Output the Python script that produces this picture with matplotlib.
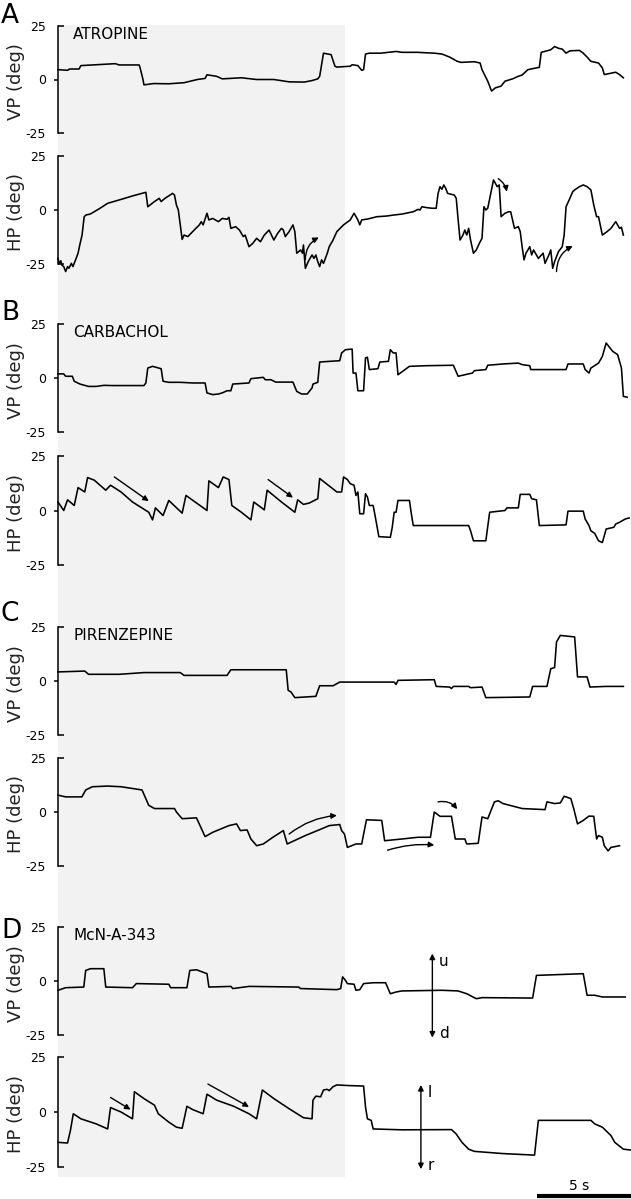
import matplotlib
matplotlib.use("Agg")
import matplotlib.pyplot as plt

# eye position traces (time in s, position in deg)

a_vp = [(0, 4.6), (0.5, 4.3), (0.6, 4.9), (1.1, 4.9), (1.2, 6.5), (2.0, 6.9), (3.0, 7.4), (3.2, 6.8), (4.25, 6.8),
        (4.3, 5.4), (4.45, 0), (4.5, -2.5), (5.0, -1.9), (5.8, -2.0), (6.6, -1.5), (7.3, 0), (7.7, 0.5), (7.8, 2.2),
        (8.3, 1.5), (8.6, 0.3), (9.6, 0.8), (10.4, 0), (11.3, 0), (12.1, -1.1), (12.9, -1.2), (13.3, -0.5),
        (13.6, 0.3), (13.7, 1.5), (13.9, 12.3), (14.3, 11.6), (14.5, 6.2), (14.6, 5.8), (15.3, 6.2), (15.4, 6.9),
        (15.7, 6.5), (15.9, 4.3), (16.0, 4.6), (16.1, 11.9), (16.3, 12.3), (16.9, 12.3), (17.7, 13.1), (18.0, 12.7),
        (18.8, 12.7), (19.7, 12.3), (20.1, 11.9), (20.5, 10.5), (20.9, 8.5), (21.1, 8.0), (21.8, 8.3), (22.1, 7.7),
        (22.2, 4.6), (22.5, -0.8), (22.7, -5.4), (22.9, -3.9), (23.2, -3.1), (23.4, -0.8), (23.8, 0.3), (24.1, 1.5),
        (24.3, 2.1), (24.6, 4.6), (25.2, 5.7), (25.3, 12.7), (25.6, 13.4), (25.8, 13.9), (26.0, 15.4), (26.2, 14.6),
        (26.4, 14.2), (26.6, 12.3), (26.8, 13.4), (27.3, 13.6), (27.5, 12.3), (27.7, 10.5), (27.9, 8.5), (28.3, 7.7),
        (28.5, 5.4), (28.6, 2.3), (29.2, 3.4), (29.4, 2.3), (29.6, 0.8)]

a_hp = [(0, -22.4), (0.06, -24.7), (0.15, -23.5), (0.2, -25.5), (0.3, -26.2), (0.4, -28.5), (0.5, -26.2),
        (0.57, -27), (0.7, -24.7), (0.78, -26.2), (0.95, -22.4), (1.05, -20), (1.16, -15.4), (1.26, -11.6),
        (1.37, -3.1), (1.47, -2.3), (1.68, -1.9), (1.9, -0.8), (2.2, 0.8), (2.6, 3.1), (3.3, 4.9), (3.9, 6.5),
        (4.6, 8.2), (4.7, 1.5), (5.05, 3.9), (5.3, 5.4), (5.4, 3.9), (5.6, 5.4), (6.0, 7.7), (6.1, 6.9), (6.2, 2.3),
        (6.3, 0), (6.4, -6.9), (6.5, -13.6), (6.6, -11.6), (6.8, -12.3), (7.05, -10), (7.4, -6.9), (7.5, -5.4),
        (7.6, -6.9), (7.8, -1.5), (7.9, -4.6), (8.1, -3.9), (8.4, -5.4), (8.6, -3.9), (8.85, -4.3), (8.95, -3.4),
        (9.05, -8.5), (9.3, -7.7), (9.5, -9.3), (9.6, -10.8), (9.7, -12.3), (9.8, -11.6), (10.0, -17), (10.2, -15.4),
        (10.4, -13.1), (10.6, -14.7), (10.8, -11.6), (11.05, -9.3), (11.3, -13.9), (11.5, -10.8), (11.7, -8.5),
        (11.8, -9.3), (11.9, -12.3), (12.1, -10), (12.3, -6.9), (12.4, -10), (12.5, -20), (12.7, -18.5), (12.8, -20),
        (12.85, -16.2), (12.95, -27), (13.1, -23.9), (13.3, -20.8), (13.4, -22.4), (13.5, -20.8), (13.6, -23.9),
        (13.7, -26.2), (13.8, -23.1), (13.9, -24.7), (14.0, -22.4), (14.1, -20), (14.2, -17), (14.4, -13.9),
        (14.6, -10), (14.95, -6.9), (15.3, -4.6), (15.5, -1.5), (15.6, -3.1), (15.7, -4.6), (15.8, -6.9),
        (15.9, -4.6), (16.2, -4.2), (16.7, -3.1), (17.2, -2.8), (17.6, -2.3), (18.0, -1.9), (18.6, -0.8),
        (18.85, 0.3), (18.95, 0), (19.05, 1.5), (19.3, 1.1), (19.6, 0.8), (19.8, 0.8), (19.9, 7.7), (20.0, 10.8),
        (20.1, 9.6), (20.2, 11.6), (20.3, 10), (20.4, 7.7), (20.75, 6.9), (20.85, 5.4), (20.95, -4.6), (21.05, -13.9),
        (21.2, -11.6), (21.3, -9.3), (21.4, -11.6), (21.5, -8.5), (21.6, -13.9), (21.75, -20), (21.9, -18.5),
        (22.1, -14.7), (22.2, -13.1), (22.3, 1.5), (22.4, 0), (22.5, 0.8), (22.8, 13.9), (23.0, 10.8), (23.1, 11.6),
        (23.2, -3.1), (23.4, -1.5), (23.6, -0.8), (23.7, -0.8), (23.8, -4.6), (23.9, -8.5), (24.1, -7.7),
        (24.2, -10), (24.3, -17), (24.4, -23.1), (24.5, -20), (24.7, -17), (24.8, -20.8), (24.9, -18.5),
        (25.15, -22.4), (25.4, -20), (25.5, -24.7), (25.7, -20.8), (25.8, -18.5), (25.9, -27), (26.0, -23.9),
        (26.2, -19.3), (26.4, -17), (26.5, -11.6), (26.6, 1.5), (26.8, 5.4), (26.95, 8.5), (27.05, 9.3),
        (27.3, 10.8), (27.5, 11.6), (27.7, 10.8), (27.9, 9.3), (28.05, 2.3), (28.2, -3.1), (28.3, -3.1),
        (28.5, -11.6), (28.75, -10), (28.95, -8.5), (29.2, -5.4), (29.3, -6.9), (29.4, -8.5), (29.5, -8),
        (29.6, -11.6)]

b_vp = [(0, 1.9), (0.3, 1.9), (0.4, 0.8), (0.75, 0.8), (0.85, -1.5), (1.15, -2.8), (1.6, -3.9), (2.0, -3.9),
        (2.4, -3.4), (2.85, -3.5), (4.5, -3.5), (4.6, -2.3), (4.7, 4.6), (4.95, 5.4), (5.4, 4.3), (5.5, -1.5),
        (5.8, -2.0), (6.4, -2.0), (7.05, -2.3), (7.7, -2.3), (7.8, -6.9), (8.1, -7.7), (8.4, -7.4), (8.6, -6.9),
        (8.85, -5.9), (9.05, -5.9), (9.15, -2.8), (10.0, -2.3), (10.1, -0.3), (10.75, 0.3), (10.85, -0.8),
        (11.15, -0.8), (11.4, -1.9), (12.3, -1.9), (12.5, -6.2), (12.75, -7.4), (13.05, -7.4), (13.3, -4.6),
        (13.35, -2.8), (13.6, -2.0), (13.7, 7.4), (14.2, 7.7), (14.75, 8.0), (14.85, 11.6), (15.05, 13.1),
        (15.4, 13.4), (15.45, 2.3), (15.6, 2.3), (15.7, -5.9), (16.0, -5.9), (16.1, 9.3), (16.2, 9.6), (16.3, 3.9),
        (16.75, 4.3), (16.85, 7.4), (17.3, 7.7), (17.4, 13.1), (17.55, 11.6), (17.7, 11.6), (17.8, 1.5),
        (18.0, 2.8), (18.4, 5.4), (19.3, 5.7), (20.7, 5.9), (20.95, 0.8), (21.7, 2.3), (21.8, 3.4), (22.4, 3.9),
        (22.5, 5.9), (23.3, 6.5), (24.1, 6.9), (24.3, 6.2), (24.7, 5.7), (24.75, 3.9), (26.6, 3.9), (26.7, 6.5),
        (27.5, 6.5), (27.6, 3.9), (27.8, 2.3), (27.9, 4.6), (28.3, 6.9), (28.5, 10), (28.7, 16.2), (28.9, 13.9),
        (29.05, 12.3), (29.3, 10.8), (29.5, 4.6), (29.6, -8.5), (29.8, -8.9)]

b_hp = [(0, 3.9), (0.3, 0), (0.5, 4.9), (0.85, 2.3), (1.05, 10.5), (1.4, 8.5), (1.55, 15.1), (1.9, 13.9),
        (2.5, 9.3), (2.75, 11.6), (3.3, 8.5), (3.9, 3.9), (4.75, -0.8), (4.95, -4.3), (5.1, 1.2), (5.5, -2.3),
        (5.8, 4.6), (6.5, -1.2), (6.7, 6.9), (7.8, 0), (7.9, 13.6), (8.4, 10.5), (8.65, 15.4), (8.95, 14.2),
        (9.1, 2.3), (9.6, -0.8), (10.1, -4.3), (10.25, 3.9), (10.8, 0.3), (10.95, 9.3), (11.7, 3.9), (12.4, -0.8),
        (12.55, 4.9), (12.85, 2.8), (13.15, 3.4), (13.6, 5.4), (13.7, 14.7), (14.6, 8.5), (14.85, 8.5),
        (14.95, 15.4), (15.15, 14.2), (15.3, 12.3), (15.5, 11.6), (15.6, 6.9), (15.7, 8.5), (15.8, -1.5),
        (16.0, -1.5), (16.1, 7.7), (16.2, 6.2), (16.3, 2.3), (16.5, 2.3), (16.6, -2.3), (16.8, -12), (17.4, -12.3),
        (17.5, -7.7), (17.6, -0.8), (17.7, -0.8), (17.8, 4.6), (18.4, 4.6), (18.5, -1.5), (18.6, -6.9),
        (21.5, -6.9), (21.6, -9.3), (21.75, -13.9), (22.4, -13.9), (22.6, -0.8), (23.4, 0), (23.5, 1.2),
        (24.1, 1.2), (24.2, 7.4), (24.7, 7.4), (24.8, 5.4), (25.05, 4.9), (25.2, -6.9), (26.6, -6.6), (26.7, -0.3),
        (27.5, -0.3), (27.6, -3.9), (27.8, -6.9), (27.9, -9.3), (28.1, -10.5), (28.3, -13.9), (28.5, -14.7),
        (28.7, -8.5), (29.1, -7.7), (29.2, -6.2), (29.4, -5.4), (29.7, -3.9), (29.9, -3.4)]

c_vp = [(0, 4.2), (1.4, 4.6), (1.6, 3.1), (3.2, 3.1), (3.7, 3.4), (4.5, 3.9), (6.4, 3.9), (6.6, 2.6), (8.85, 2.6),
        (9.05, 5.2), (11.95, 5.2), (12.05, -4.3), (12.2, -5.1), (12.4, -7.7), (13.5, -7.1), (13.7, -2.2),
        (14.4, -2.2), (14.75, -0.5), (17.6, -0.5), (17.7, -1.6), (17.8, 0.3), (19.7, 0.6), (19.8, -2.5),
        (20.5, -2.8), (20.6, -3.5), (20.7, -2.5), (21.5, -2.5), (21.6, -3.1), (22.2, -2.8), (22.4, -7.7),
        (24.7, -7.4), (24.85, -2.5), (25.6, -2.5), (25.8, 5.7), (26.0, 6.2), (26.1, 18.1), (26.3, 21.1),
        (27.05, 20.4), (27.2, 1.9), (27.7, 1.9), (27.85, -2.8), (28.7, -2.5), (29.6, -2.5)]

c_hp = [(0, 7.8), (0.4, 7.0), (1.25, 7.0), (1.45, 10.2), (1.8, 11.7), (2.6, 12.0), (3.3, 11.7), (4.4, 10.2),
        (4.75, 3.1), (5.05, 1.6), (6.1, 1.6), (6.2, 0), (6.5, -3.1), (7.25, -2.7), (7.7, -11.4), (8.1, -9.4),
        (8.95, -6.3), (9.35, -5.5), (9.55, -8.6), (9.9, -8.3), (10.1, -12.5), (10.4, -15.6), (10.75, -14.8),
        (11.25, -11.7), (11.8, -8.6), (12.0, -14.8), (12.95, -10.9), (13.8, -7.8), (14.2, -6.3), (14.75, -5.8),
        (14.85, -8.6), (15.0, -10.2), (15.15, -16.4), (15.6, -14.8), (15.9, -14.8), (16.15, -3.6), (16.95, -3.9),
        (17.1, -13.3), (18.0, -12.5), (18.85, -11.7), (19.5, -11.7), (19.7, 0), (20.0, -2.0), (20.6, -2.0),
        (20.8, -12.5), (21.3, -12.5), (21.4, -14.8), (22.0, -14.5), (22.2, -2.3), (22.5, -3.1), (22.85, 4.7),
        (23.05, 5.2), (23.3, 3.9), (24.3, 1.6), (25.5, 1.1), (25.6, 4.7), (26.0, 3.9), (26.3, 4.2), (26.5, 7.3),
        (26.85, 6.2), (27.0, 1.6), (27.2, -5.5), (27.5, -3.9), (27.8, -1.9), (28.05, -2.0), (28.2, -12.5),
        (28.3, -10.9), (28.5, -11.7), (28.6, -15.6), (28.8, -18.0), (28.95, -16.4), (29.4, -15.6)]

d_vp = [(0, -4.3), (0.4, -3.1), (1.35, -2.8), (1.45, 4.9), (1.7, 5.7), (2.4, 5.7), (2.5, -2.8), (3.9, -3.1),
        (4.1, -1.2), (5.8, -1.5), (5.9, -3.1), (6.75, -3.1), (6.9, 4.9), (7.25, 5.2), (7.8, 3.4), (7.9, -2.8),
        (9.05, -2.5), (9.15, -3.5), (10.0, -2.5), (12.6, -2.8), (12.7, -3.5), (14.6, -4.0), (14.8, -3.5),
        (14.9, 1.9), (15.05, 0.3), (15.15, -1.2), (15.5, -1.5), (15.6, -4.3), (15.8, -4.0), (16.0, -1.2),
        (16.5, -0.8), (17.15, -0.8), (17.4, -5.9), (17.7, -5.1), (18.0, -4.6), (20.1, -4.3), (20.95, -4.6),
        (21.4, -5.9), (21.9, -8.2), (22.2, -7.7), (24.85, -7.9), (25.05, 2.6), (26.0, 2.9), (27.5, 3.4),
        (27.7, -6.6), (28.1, -6.6), (28.5, -7.4), (29.7, -7.4)]

d_hp = [(0, -13.8), (0.5, -14.1), (0.65, -8.4), (0.8, -0.8), (1.2, -3.1), (2.0, -5.4), (2.6, -7.7), (2.75, 2.0),
        (3.3, 0), (3.9, -3.1), (4.0, 9.2), (4.5, 6.1), (5.05, 3.1), (5.25, -0.8), (5.8, -4.6), (6.2, -6.9),
        (6.5, -7.4), (6.75, 2.6), (7.05, 1.1), (7.6, -0.8), (7.8, 8.1), (8.3, 5.4), (9.2, 2.6), (10.0, -0.8),
        (10.4, -3.1), (10.7, 10.0), (11.3, 6.1), (12.1, 1.5), (12.85, -2.6), (13.3, -3.1), (13.35, 5.4),
        (13.5, 7.2), (13.75, 6.9), (13.9, 10.0), (14.1, 10.3), (14.2, 9.7), (14.4, 11.5), (14.6, 12.3),
        (15.25, 12.0), (16.0, 11.8), (16.1, 2.3), (16.2, -3.1), (16.4, -3.8), (16.5, -7.7), (18.0, -8.1),
        (20.6, -8.0), (20.85, -10.0), (21.15, -13.8), (21.5, -16.9), (21.8, -17.9), (23.3, -18.9), (24.95, -19.6),
        (25.15, -3.8), (27.9, -3.8), (28.1, -5.4), (28.5, -6.9), (28.95, -10.7), (29.15, -13.8), (29.6, -16.9),
        (30.0, -17.3)]

# panel setup
traces = [a_vp, a_hp, b_vp, b_hp, c_vp, c_hp, d_vp, d_hp]
ylabels = ["VP (deg)", "HP (deg)"] * 4
letters = ["A", None, "B", None, "C", None, "D", None]
drugs = ["ATROPINE", None, "CARBACHOL", None, "PIRENZEPINE", None, "McN-A-343", None]
tops = [26, 156, 324, 456, 627, 758, 927, 1057]
bottoms = [133, 264, 432, 565, 735, 866, 1035, 1167]
letter_y = [3, None, 300, None, 601, None, 918, None]

# slow-phase arrows: (panel, start, end, curvature)
arrows = [(1, (12.95, -23.0), (13.65, -12.7), -0.3),
          (1, (23.05, 14.5), (23.5, 8.5), -0.2),
          (1, (26.1, -28.5), (26.95, -16.7), -0.3),
          (3, (2.95, 15.4), (4.75, 4.3), 0.0),
          (3, (11.0, 14.2), (12.3, 5.9), 0.0),
          (5, (12.1, -10.2), (14.6, -1.6), -0.15),
          (5, (17.25, -17.7), (19.7, -15.3), -0.1),
          (5, (19.9, 4.7), (20.9, 1.3), -0.3),
          (7, (2.75, 6.6), (3.8, 1.1), 0.0),
          (7, (7.85, 12.7), (10.0, 2.3), 0.0)]

# direction keys: (panel, time, top, bottom, upper label, lower label)
keys = [(6, 19.6, 12.7, -26.2, "u", "d"),
        (7, 19.0, 12.3, -26.0, "l", "r")]

W, H = 631, 1199
fig = plt.figure(figsize=(W / 100, H / 100), dpi=100)
plt.rcParams['font.family'] = ['DejaVu Sans']

left = 58 / W
width = 573 / W

# drug period shading behind all panels
bg = fig.add_axes([left, 1 - 1177 / H, width, (1177 - 25) / H])
bg.set_xlim(0, 30)
bg.axvspan(0, 15, color="#f2f2f2", lw=0)
bg.axis("off")
bg.set_zorder(0)

axes = []
for i in range(8):
    ax = fig.add_axes([left, 1 - bottoms[i] / H, width, (bottoms[i] - tops[i]) / H])
    ax.set_zorder(1)
    ax.set_facecolor("none")
    ax.set_xlim(0, 30)
    ax.set_ylim(-25, 25)
    t = [p[0] for p in traces[i]]
    v = [p[1] for p in traces[i]]
    ax.plot(t, v, color="black", lw=1.15, clip_on=False)

    for s in ["top", "right", "bottom"]:
        ax.spines[s].set_visible(False)
    ax.spines["left"].set_linewidth(1.1)
    ax.set_xticks([])
    ax.set_yticks([-25, 25])
    ax.set_yticklabels(["-25", "25"])
    ax.set_yticks([0], minor=True)
    ax.set_yticklabels(["0"], minor=True)
    ax.tick_params(axis="y", which="major", direction="in", length=4, width=1.1, pad=8.5, labelsize=9)
    ax.tick_params(axis="y", which="minor", direction="out", length=3, width=1.1, pad=5.5, labelsize=9)
    ax.set_ylabel(ylabels[i], fontsize=13, color="#222222")
    ax.yaxis.set_label_coords(-0.058, 0.48)

    if drugs[i]:
        ax.text(0.8, 24.5, drugs[i], fontsize=11, va="top", ha="left")
    if letters[i]:
        fig.text(1 / W, 1 - letter_y[i] / H, letters[i], fontsize=19, va="top", ha="left")
    axes.append(ax)

for k, start, end, rad in arrows:
    axes[k].annotate("", xy=end, xytext=start, annotation_clip=False,
                     arrowprops=dict(arrowstyle="-|>", color="black", lw=1.0, mutation_scale=8,
                                     shrinkA=0, shrinkB=0, connectionstyle="arc3,rad=%s" % rad))

for k, tx, y1, y2, lab1, lab2 in keys:
    axes[k].annotate("", xy=(tx, y1), xytext=(tx, y2), annotation_clip=False,
                     arrowprops=dict(arrowstyle="<|-|>", color="black", lw=1.0, mutation_scale=8,
                                     shrinkA=0, shrinkB=0))
    axes[k].text(tx + 0.35, y1 - 3.5, lab1, fontsize=11, ha="left", va="center")
    axes[k].text(tx + 0.35, y2 + 1.8, lab2, fontsize=11, ha="left", va="center")

# 5 s scale bar
axes[7].plot([25.1, 30], [-38, -38], color="black", lw=3, clip_on=False, solid_capstyle="butt")
axes[7].text(27.3, -33.5, "5 s", fontsize=10, ha="center", va="center")

fig.savefig("out.png", dpi=100)
